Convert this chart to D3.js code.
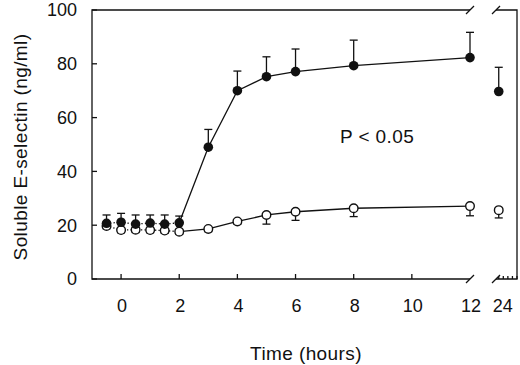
<!DOCTYPE html>
<html>
<head>
<meta charset="utf-8">
<script src="https://cdn.jsdelivr.net/npm/d3@7"></script>
<style>
  body { margin: 0; background: #fff; }
  svg { display: block; font-family: "Liberation Sans", Arial, sans-serif; }
  .ax { stroke: #111; stroke-width: 1.3; fill: none; }
  .tick-label { font-size: 18px; fill: #111; }
  .title { font-size: 19px; fill: #111; letter-spacing: 0.4px; }
</style>
</head>
<body>
<script>
// Time points (hours)
var times = [-0.5, 0, 0.5, 1, 1.5, 2, 3, 4, 5, 6, 8, 12, 24];

// Filled circles: mean and error (upward)
var filledMean = [20.7, 21.1, 20.4, 20.8, 20.4, 20.9, 49, 70, 75.2, 77.1, 79.3, 82.3, 69.7];
var filledErr = [3.1, 3.3, 3.4, 3.0, 3.4, 2.5, 6.6, 7.3, 7.4, 8.4, 9.5, 9.4, 9.0];

// Open circles: mean and error (downward)
var openMean = [19.7, 18.2, 18.3, 18.2, 18.0, 17.6, 18.6, 21.4, 23.8, 25.0, 26.3, 27.1, 25.6];
var openErr = [1.0, 1.0, 1.0, 1.0, 1.0, 1.0, 1.0, 1.0, 3.4, 3.2, 3.1, 3.6, 2.9];

var xTicks = [0, 2, 4, 6, 8, 10];
var xLabels = [0, 2, 4, 6, 8, 10, 12];
var yTicks = [0, 20, 40, 60, 80, 100];
var minorTicks24 = [24, 24.5, 25, 25.5, 26];

var W = 520, H = 365;
var svg = d3.select("body").append("svg").attr("width", W).attr("height", H);

// Two x segments around the axis break
var x1 = d3.scaleLinear().domain([-1, 12]).range([92, 470]);
var x2 = d3.scaleLinear().domain([23.7, 26]).range([496, 517]);
var y = d3.scaleLinear().domain([0, 100]).range([279, 10]);
function xs(t) { return t > 12 ? x2(t) : x1(t); }

var yTop = y(100), yBot = y(0);

// Frame / axes
svg.append("path").attr("class", "ax")
  .attr("d", "M" + x1(12) + "," + yTop + "H" + x1(-1) + "V" + yBot + "H" + x1(12));
svg.append("path").attr("class", "ax")
  .attr("d", "M" + x2.range()[0] + "," + yTop + "H" + x2(26) + "V" + yBot + "H" + x2.range()[0]);

// Break slashes
[x1(12), x2.range()[0]].forEach(function (bx) {
  [yTop, yBot].forEach(function (by) {
    svg.append("line").attr("class", "ax")
      .attr("x1", bx - 4).attr("y1", by + 4)
      .attr("x2", bx + 4).attr("y2", by - 4);
  });
});

// Y ticks (inward)
yTicks.forEach(function (v) {
  svg.append("line").attr("class", "ax")
    .attr("x1", x1(-1)).attr("x2", x1(-1) + 5)
    .attr("y1", y(v)).attr("y2", y(v));
  svg.append("text").attr("class", "tick-label")
    .attr("x", x1(-1) - 15).attr("y", y(v)).attr("dy", "0.36em")
    .attr("text-anchor", "end").text(v);
});

// X ticks (inward)
xTicks.forEach(function (v) {
  svg.append("line").attr("class", "ax")
    .attr("x1", x1(v)).attr("x2", x1(v))
    .attr("y1", yBot).attr("y2", yBot - 5);
});
minorTicks24.forEach(function (v) {
  svg.append("line").attr("class", "ax")
    .attr("x1", x2(v)).attr("x2", x2(v))
    .attr("y1", yBot).attr("y2", yBot - 3);
});
xLabels.forEach(function (v) {
  svg.append("text").attr("class", "tick-label")
    .attr("x", x1(v) + 1).attr("y", 312)
    .attr("text-anchor", "middle").text(v);
});
svg.append("text").attr("class", "tick-label")
  .attr("x", x2(24) + 4).attr("y", 312)
  .attr("text-anchor", "middle").text(24);

// Axis titles
svg.append("text").attr("class", "title")
  .attr("x", 306).attr("y", 360).attr("text-anchor", "middle").text("Time (hours)");
svg.append("text").attr("class", "title")
  .attr("transform", "translate(27,147) rotate(-90)")
  .attr("text-anchor", "middle").text("Soluble E-selectin (ng/ml)");

// Annotation
svg.append("text").attr("class", "title")
  .attr("x", 340).attr("y", 143).text("P < 0.05");

// Series data
var filled = times.map(function (t, i) { return { t: t, v: filledMean[i], e: filledErr[i] }; });
var open = times.map(function (t, i) { return { t: t, v: openMean[i], e: openErr[i] }; });

var line = d3.line().x(function (d) { return xs(d.t); }).y(function (d) { return y(d.v); });

[filled, open].forEach(function (s) {
  // dotted baseline segment
  svg.append("path").attr("class", "ax").attr("stroke-dasharray", "1.3,2.2")
    .attr("d", line(s.filter(function (d) { return d.t <= 2; })));
  // solid segment up to 12 h
  svg.append("path").attr("class", "ax")
    .attr("d", line(s.filter(function (d) { return d.t >= 2 && d.t <= 12; })));
});

// Error bars
function errBars(s, dir) {
  s.forEach(function (d) {
    var yEnd = y(d.v + dir * d.e);
    svg.append("line").attr("class", "ax").attr("stroke-width", 1)
      .attr("x1", xs(d.t)).attr("x2", xs(d.t))
      .attr("y1", y(d.v)).attr("y2", yEnd);
    svg.append("line").attr("class", "ax").attr("stroke-width", 1)
      .attr("x1", xs(d.t) - 4).attr("x2", xs(d.t) + 4)
      .attr("y1", yEnd).attr("y2", yEnd);
  });
}
errBars(filled, 1);
errBars(open, -1);

// Markers
svg.selectAll(".open").data(open).enter().append("circle")
  .attr("cx", function (d) { return xs(d.t); })
  .attr("cy", function (d) { return y(d.v); })
  .attr("r", 4.3).attr("fill", "#fff").attr("stroke", "#111").attr("stroke-width", 1.4);
svg.selectAll(".filled").data(filled).enter().append("circle")
  .attr("cx", function (d) { return xs(d.t); })
  .attr("cy", function (d) { return y(d.v); })
  .attr("r", 4.8).attr("fill", "#111");
</script>
</body>
</html>
